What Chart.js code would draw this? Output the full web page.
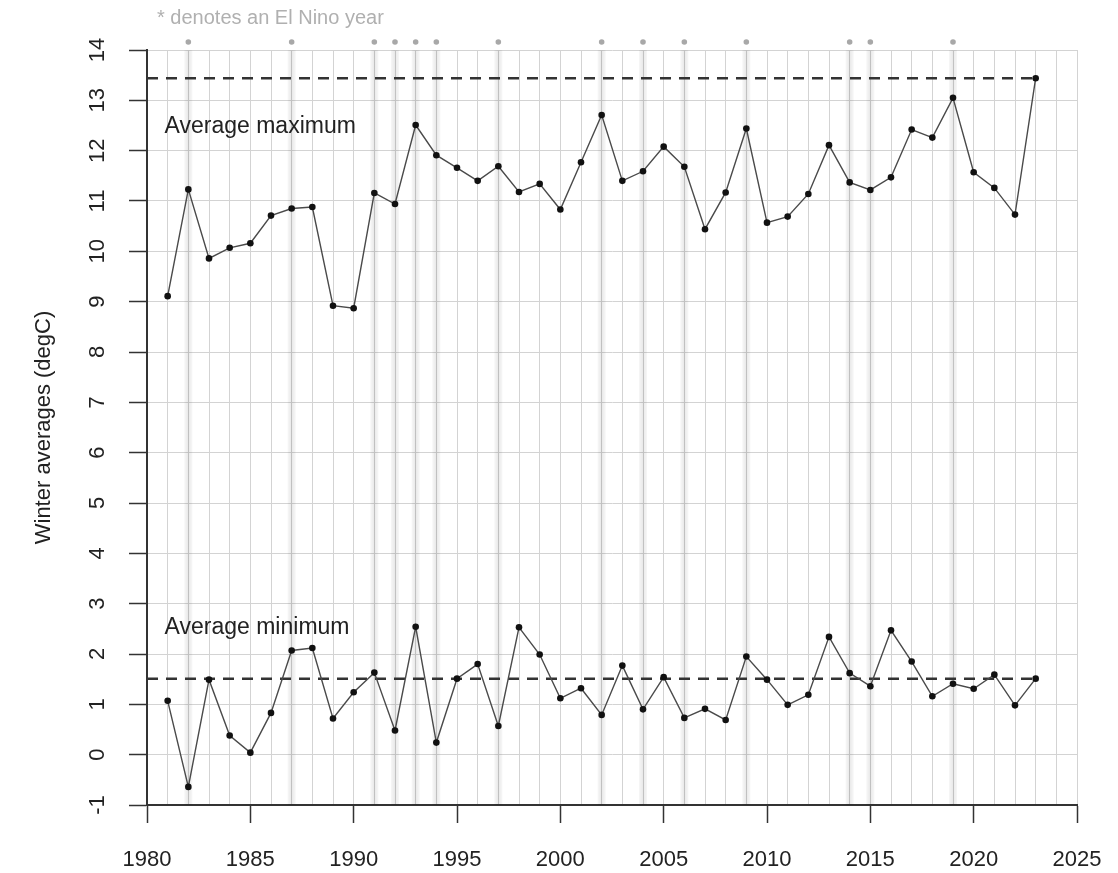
<!DOCTYPE html>
<html>
<head>
<meta charset="utf-8">
<script src="https://cdn.jsdelivr.net/npm/chart.js@4.4.1/dist/chart.umd.min.js"></script>
<style>
  body { margin: 0; background: #fff; }
  canvas { display: block; }
</style>
</head>
<body>
<canvas id="winterChart" width="1118" height="873"></canvas>
<script>
// winter averages, 1981 - 2023
const years = [1981, 1982, 1983, 1984, 1985, 1986, 1987, 1988, 1989, 1990,
  1991, 1992, 1993, 1994, 1995, 1996, 1997, 1998, 1999, 2000,
  2001, 2002, 2003, 2004, 2005, 2006, 2007, 2008, 2009, 2010,
  2011, 2012, 2013, 2014, 2015, 2016, 2017, 2018, 2019, 2020,
  2021, 2022, 2023];
const avgMax = [9.11, 11.23, 9.86, 10.07, 10.16, 10.71, 10.85, 10.88, 8.92, 8.87,
  11.16, 10.94, 12.51, 11.91, 11.66, 11.40, 11.69, 11.18, 11.34, 10.83,
  11.77, 12.71, 11.40, 11.59, 12.08, 11.68, 10.44, 11.17, 12.44, 10.57,
  10.69, 11.14, 12.11, 11.37, 11.22, 11.47, 12.42, 12.26, 13.05, 11.57,
  11.26, 10.73, 13.44];
const avgMin = [1.07, -0.64, 1.49, 0.38, 0.04, 0.83, 2.07, 2.12, 0.72, 1.24,
  1.63, 0.48, 2.54, 0.24, 1.51, 1.80, 0.57, 2.53, 1.99, 1.12,
  1.32, 0.79, 1.77, 0.90, 1.54, 0.73, 0.91, 0.69, 1.95, 1.49,
  0.99, 1.19, 2.34, 1.62, 1.36, 2.47, 1.85, 1.16, 1.41, 1.31,
  1.59, 0.98, 1.51];
const elNinoYears = [1982, 1987, 1991, 1992, 1993, 1994, 1997, 2002, 2004, 2006, 2009, 2014, 2015, 2019];
// dashed reference levels (latest winter)
const maxLevel = 13.44;
const minLevel = 1.51;
const xTicks = [1980, 1985, 1990, 1995, 2000, 2005, 2010, 2015, 2020, 2025];
const yTicks = [-1, 0, 1, 2, 3, 4, 5, 6, 7, 8, 9, 10, 11, 12, 13, 14];

const FONT = "'Liberation Sans', Arial, sans-serif";

const toPoints = (vals) => years.map((yr, i) => ({ x: yr, y: vals[i] }));

// grey bands behind El Nino years, markers, labels, rotated y tick labels
const decorations = {
  id: "decorations",
  beforeDatasetsDraw(chart) {
    const { ctx, chartArea, scales } = chart;
    ctx.save();
    elNinoYears.forEach((yr) => {
      const px = scales.x.getPixelForValue(yr);
      const g = ctx.createLinearGradient(px - 4, 0, px + 4, 0);
      g.addColorStop(0, "rgba(0,0,0,0.03)");
      g.addColorStop(0.5, "rgba(0,0,0,0.09)");
      g.addColorStop(1, "rgba(0,0,0,0.03)");
      ctx.fillStyle = g;
      ctx.fillRect(px - 4, chartArea.top, 8, chartArea.bottom - chartArea.top);
    });
    ctx.restore();
  },
  afterDraw(chart) {
    const { ctx, scales, chartArea } = chart;
    ctx.save();

    // El Nino asterisks above the plot
    ctx.fillStyle = "#a8a8a8";
    elNinoYears.forEach((yr) => {
      ctx.beginPath();
      ctx.arc(scales.x.getPixelForValue(yr), chartArea.top - 8, 2.8, 0, Math.PI * 2);
      ctx.fill();
    });

    ctx.fillStyle = "#222";
    ctx.font = "23px " + FONT;
    ctx.textBaseline = "middle";
    ctx.textAlign = "left";
    ctx.fillText("Average maximum", scales.x.getPixelForValue(1980.85), scales.y.getPixelForValue(12.47));
    ctx.fillText("Average minimum", scales.x.getPixelForValue(1980.85), scales.y.getPixelForValue(2.53));

    ctx.fillStyle = "#b0b0b0";
    ctx.font = "20px " + FONT;
    ctx.fillText("* denotes an El Nino year", 157, 18);

    // y tick labels, rotated like the original
    ctx.fillStyle = "#222";
    ctx.font = "22px " + FONT;
    ctx.textAlign = "center";
    yTicks.forEach((v) => {
      ctx.save();
      ctx.translate(98, scales.y.getPixelForValue(v));
      ctx.rotate(-Math.PI / 2);
      ctx.fillText(String(v), 0, 0);
      ctx.restore();
    });

    ctx.save();
    ctx.translate(44, (chartArea.top + chartArea.bottom) / 2);
    ctx.rotate(-Math.PI / 2);
    ctx.fillText("Winter averages (degC)", 0, 0);
    ctx.restore();
    ctx.restore();
  },
};

const lineStyle = {
  borderColor: "#4a4a4a",
  borderWidth: 1.4,
  pointRadius: 3.3,
  pointBackgroundColor: "#111",
  pointBorderWidth: 0,
  tension: 0,
};

const dashStyle = {
  borderColor: "#333",
  borderWidth: 2.5,
  borderDash: [11, 8],
  pointRadius: 0,
};

new Chart(document.getElementById("winterChart"), {
  type: "line",
  data: {
    datasets: [
      { label: "Average maximum", data: toPoints(avgMax), ...lineStyle },
      { label: "Average minimum", data: toPoints(avgMin), ...lineStyle },
      { label: "max level", data: [{ x: 1980, y: maxLevel }, { x: 2023, y: maxLevel }], ...dashStyle },
      { label: "min level", data: [{ x: 1980, y: minLevel }, { x: 2023, y: minLevel }], ...dashStyle },
    ],
  },
  options: {
    responsive: false,
    animation: false,
    layout: { padding: { top: 50, right: 41, bottom: 0, left: 0 } },
    plugins: {
      legend: { display: false },
      tooltip: { enabled: false },
    },
    scales: {
      x: {
        type: "linear",
        min: 1980,
        max: 2025,
        afterFit(scale) {
          scale.height = 68;
          scale.paddingLeft = 0;
          scale.paddingRight = 0;
        },
        border: { color: "#333", width: 2 },
        grid: {
          color: "#d3d3d3",
          lineWidth: 1,
          tickLength: 18,
          tickColor: (c) => (c.tick && xTicks.includes(c.tick.value) ? "#333" : "rgba(0,0,0,0)"),
          tickWidth: 1.5,
        },
        ticks: {
          stepSize: 1,
          autoSkip: false,
          maxRotation: 0,
          padding: 24,
          color: "#222",
          font: { size: 22, family: FONT },
          callback: (v) => (xTicks.includes(v) ? String(v) : ""),
        },
      },
      y: {
        min: -1,
        max: 14,
        afterFit(scale) {
          scale.width = 147;
          scale.paddingTop = 0;
          scale.paddingBottom = 0;
        },
        border: { color: "#333", width: 2 },
        grid: {
          color: "#d3d3d3",
          lineWidth: 1,
          tickLength: 18,
          tickColor: "#333",
          tickWidth: 1.5,
        },
        ticks: {
          stepSize: 1,
          color: "rgba(0,0,0,0)",
          font: { size: 22, family: FONT },
        },
      },
    },
  },
  plugins: [decorations],
});
</script>
</body>
</html>
